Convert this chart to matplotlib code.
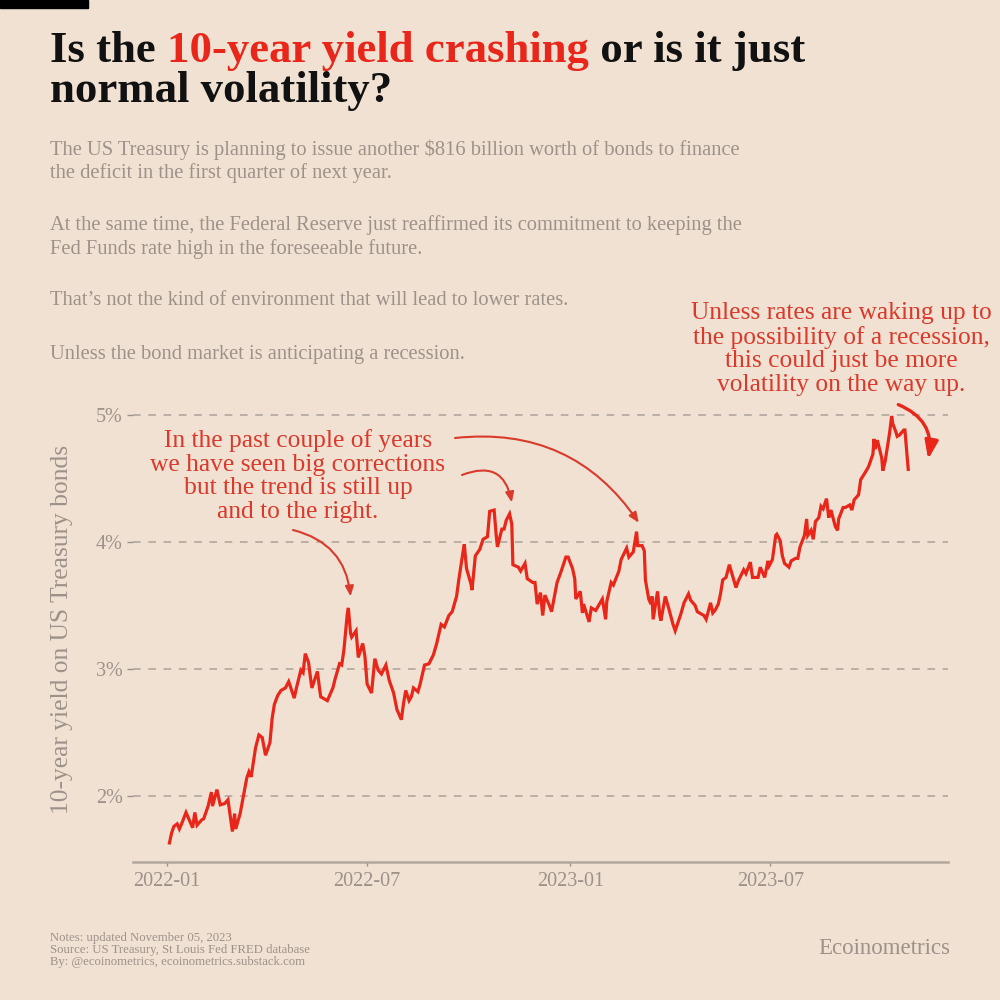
import matplotlib
matplotlib.use('Agg')
import matplotlib.pyplot as plt
import matplotlib.dates as mdates
import pandas as pd

# 10-year treasury yield (about two points a week)
dates = [
    '2022-01-03', '2022-01-05', '2022-01-07', '2022-01-10', '2022-01-12', '2022-01-14', '2022-01-18', '2022-01-20',
    '2022-01-24', '2022-01-26', '2022-01-28', '2022-02-01', '2022-02-03', '2022-02-07', '2022-02-10', '2022-02-11',
    '2022-02-15', '2022-02-18', '2022-02-22', '2022-02-25', '2022-03-01', '2022-03-03', '2022-03-04', '2022-03-08',
    '2022-03-11', '2022-03-14', '2022-03-16', '2022-03-18', '2022-03-22', '2022-03-25', '2022-03-28', '2022-03-31',
    '2022-04-04', '2022-04-06', '2022-04-08', '2022-04-11', '2022-04-14', '2022-04-18', '2022-04-21', '2022-04-26',
    '2022-04-28', '2022-05-02', '2022-05-04', '2022-05-06', '2022-05-09', '2022-05-11', '2022-05-12', '2022-05-17',
    '2022-05-19', '2022-05-20', '2022-05-24', '2022-05-26', '2022-05-31', '2022-06-02', '2022-06-06', '2022-06-08',
    '2022-06-10', '2022-06-13', '2022-06-14', '2022-06-16', '2022-06-17', '2022-06-21', '2022-06-23', '2022-06-27',
    '2022-06-29', '2022-07-01', '2022-07-05', '2022-07-08', '2022-07-11', '2022-07-14', '2022-07-18', '2022-07-21',
    '2022-07-25', '2022-07-28', '2022-08-01', '2022-08-03', '2022-08-05', '2022-08-08', '2022-08-10', '2022-08-12',
    '2022-08-16', '2022-08-18', '2022-08-22', '2022-08-26', '2022-08-30', '2022-09-02', '2022-09-06', '2022-09-09',
    '2022-09-13', '2022-09-16', '2022-09-20', '2022-09-22', '2022-09-26', '2022-09-27', '2022-09-29', '2022-10-03',
    '2022-10-04', '2022-10-07', '2022-10-11', '2022-10-14', '2022-10-18', '2022-10-20', '2022-10-24', '2022-10-26',
    '2022-10-27', '2022-10-31', '2022-11-02', '2022-11-04', '2022-11-07', '2022-11-09', '2022-11-10', '2022-11-15',
    '2022-11-17', '2022-11-21', '2022-11-23', '2022-11-28', '2022-11-30', '2022-12-02', '2022-12-05', '2022-12-07',
    '2022-12-09', '2022-12-13', '2022-12-15', '2022-12-20', '2022-12-23', '2022-12-28', '2022-12-30',
    '2023-01-03', '2023-01-05', '2023-01-06', '2023-01-10', '2023-01-12', '2023-01-13', '2023-01-18', '2023-01-20',
    '2023-01-24', '2023-01-26', '2023-01-30', '2023-02-02', '2023-02-03', '2023-02-07', '2023-02-09', '2023-02-14',
    '2023-02-16', '2023-02-21', '2023-02-23', '2023-02-27', '2023-03-02', '2023-03-03', '2023-03-07', '2023-03-09',
    '2023-03-10', '2023-03-13', '2023-03-15', '2023-03-16', '2023-03-17', '2023-03-21', '2023-03-23', '2023-03-24',
    '2023-03-28', '2023-03-31', '2023-04-04', '2023-04-06', '2023-04-11', '2023-04-14', '2023-04-18', '2023-04-20',
    '2023-04-24', '2023-04-26', '2023-04-28', '2023-05-02', '2023-05-04', '2023-05-08', '2023-05-10', '2023-05-12',
    '2023-05-15', '2023-05-17', '2023-05-19', '2023-05-22', '2023-05-25', '2023-05-31', '2023-06-02', '2023-06-07',
    '2023-06-09', '2023-06-13', '2023-06-15', '2023-06-20', '2023-06-22', '2023-06-26', '2023-06-29', '2023-06-30',
    '2023-07-03', '2023-07-06', '2023-07-07', '2023-07-10', '2023-07-12', '2023-07-14', '2023-07-18', '2023-07-20',
    '2023-07-24', '2023-07-26', '2023-07-28', '2023-08-01', '2023-08-03', '2023-08-04', '2023-08-07', '2023-08-09',
    '2023-08-11', '2023-08-14', '2023-08-16', '2023-08-18', '2023-08-21', '2023-08-23', '2023-08-25', '2023-08-29',
    '2023-08-31', '2023-09-01', '2023-09-05', '2023-09-07', '2023-09-11', '2023-09-13', '2023-09-15', '2023-09-19',
    '2023-09-21', '2023-09-26', '2023-09-28', '2023-10-02', '2023-10-03', '2023-10-04', '2023-10-06', '2023-10-10',
    '2023-10-11', '2023-10-13', '2023-10-17', '2023-10-19', '2023-10-20', '2023-10-23', '2023-10-24', '2023-10-26',
    '2023-10-30', '2023-10-31', '2023-11-01', '2023-11-02', '2023-11-03',
]
yields = [
    1.63, 1.71, 1.76, 1.78, 1.74, 1.78, 1.87, 1.83,
    1.75, 1.87, 1.77, 1.81, 1.82, 1.92, 2.03, 1.92,
    2.05, 1.93, 1.94, 1.97, 1.72, 1.86, 1.74, 1.86,
    2.00, 2.14, 2.19, 2.15, 2.38, 2.48, 2.46, 2.32,
    2.42, 2.61, 2.72, 2.79, 2.83, 2.85, 2.90, 2.77,
    2.85, 2.99, 2.97, 3.12, 3.05, 2.91, 2.85, 2.98,
    2.84, 2.78, 2.76, 2.75, 2.85, 2.92, 3.04, 3.03,
    3.15, 3.43, 3.48, 3.28, 3.25, 3.30, 3.09, 3.20,
    3.10, 2.88, 2.81, 3.08, 2.99, 2.96, 3.03, 2.91,
    2.81, 2.68, 2.60, 2.73, 2.83, 2.75, 2.78, 2.85,
    2.82, 2.88, 3.03, 3.04, 3.11, 3.20, 3.35, 3.33,
    3.42, 3.45, 3.57, 3.70, 3.93, 3.98, 3.79, 3.67,
    3.62, 3.89, 3.94, 4.02, 4.04, 4.24, 4.25, 4.04,
    3.96, 4.10, 4.10, 4.17, 4.22, 4.14, 3.82, 3.80,
    3.77, 3.83, 3.71, 3.68, 3.68, 3.51, 3.60, 3.42,
    3.58, 3.50, 3.45, 3.68, 3.75, 3.88, 3.88,
    3.79, 3.71, 3.55, 3.61, 3.44, 3.51, 3.37, 3.48,
    3.46, 3.49, 3.55, 3.39, 3.53, 3.68, 3.66, 3.77,
    3.86, 3.95, 3.88, 3.92, 4.08, 3.97, 3.97, 3.93,
    3.70, 3.55, 3.51, 3.57, 3.39, 3.61, 3.42, 3.38,
    3.57, 3.48, 3.35, 3.30, 3.43, 3.52, 3.59, 3.54,
    3.50, 3.45, 3.44, 3.42, 3.39, 3.52, 3.44, 3.46,
    3.51, 3.59, 3.70, 3.72, 3.82, 3.64, 3.69, 3.78,
    3.75, 3.84, 3.72, 3.72, 3.80, 3.72, 3.85, 3.81,
    3.86, 4.05, 4.06, 4.01, 3.89, 3.83, 3.80, 3.85,
    3.87, 3.87, 3.96, 4.05, 4.18, 4.05, 4.09, 4.02,
    4.16, 4.19, 4.28, 4.26, 4.34, 4.19, 4.25, 4.12,
    4.09, 4.18, 4.27, 4.27, 4.29, 4.25, 4.33, 4.37,
    4.49, 4.56, 4.59, 4.69, 4.81, 4.73, 4.80, 4.66,
    4.56, 4.63, 4.85, 4.99, 4.93, 4.86, 4.83, 4.84,
    4.88, 4.88, 4.77, 4.67, 4.57,
]

yticks = [2, 3, 4, 5]
ytick_labels = ['2%', '3%', '4%', '5%']
xticks = ['2022-01-01', '2022-07-01', '2023-01-01', '2023-07-01']

bg = '#f0e1d2'
gray = '#9d928a'
red = '#e8261a'
red_text = '#d93a2b'

plt.rcParams['font.family'] = ['Liberation Serif', 'DejaVu Serif']

fig = plt.figure(figsize=(10, 10), dpi=100, facecolor=bg)
ax = fig.add_axes([0.133, 0.138, 0.815, 0.479])
ax.set_facecolor(bg)

x = pd.to_datetime(dates)
ax.plot(x, yields, color=red, lw=2.3, solid_joinstyle='miter', zorder=3)

ax.set_ylim(1.48, 5.25)
ax.set_xlim(pd.Timestamp('2021-12-01'), pd.Timestamp('2023-12-09'))
ax.set_yticks(yticks)
ax.set_yticklabels(ytick_labels)
ax.set_xticks(pd.to_datetime(xticks))
ax.xaxis.set_major_formatter(mdates.DateFormatter('%Y-%m'))
ax.grid(axis='y', color='#aaa29a', ls=(0, (5, 5)), lw=1.1)
ax.tick_params(axis='both', colors=gray, labelcolor=gray, labelsize=14.5, length=4, width=1)
ax.tick_params(axis='x', length=3, pad=4)
for s in ['top', 'right', 'left']:
    ax.spines[s].set_visible(False)
ax.spines['bottom'].set_color('#b3a79c')
ax.spines['bottom'].set_linewidth(1.8)
ax.set_ylabel('10-year yield on US Treasury bonds', color=gray, fontsize=18.4)
ax.yaxis.set_label_coords(-0.074, 0.485)

# black tag in the corner
fig.patches.append(plt.Rectangle((0, 0.992), 0.088, 0.008, transform=fig.transFigure,
                                 color='black', zorder=5))

# title with the red part
fig.canvas.draw()
r = fig.canvas.get_renderer()
tx = 0.05
for part, col in [('Is the ', '#111111'), ('10-year yield crashing', red), (' or is it just', '#111111')]:
    t = fig.text(tx, 0.938, part, color=col, fontsize=32.2, fontweight='bold', va='baseline')
    bb = t.get_window_extent(renderer=r)
    tx += bb.width / fig.bbox.width
fig.text(0.05, 0.898, 'normal volatility?', color='#111111', fontsize=32.2, fontweight='bold', va='baseline')

sub = [
    (0.861, 'The US Treasury is planning to issue another $816 billion worth of bonds to finance\nthe deficit in the first quarter of next year.'),
    (0.785, 'At the same time, the Federal Reserve just reaffirmed its commitment to keeping the\nFed Funds rate high in the foreseeable future.'),
    (0.709, 'That\u2019s not the kind of environment that will lead to lower rates.'),
    (0.655, 'Unless the bond market is anticipating a recession.'),
]
for y, s in sub:
    fig.text(0.05, y, s, color=gray, fontsize=14.8, va='top', linespacing=1.25)

# annotations
fig.text(0.298, 0.524, 'In the past couple of years\nwe have seen big corrections\nbut the trend is still up\nand to the right.',
         color=red_text, fontsize=18.4, ha='center', va='center', linespacing=1.08)
fig.text(0.841, 0.651, 'Unless rates are waking up to\nthe possibility of a recession,\nthis could just be more\nvolatility on the way up.',
         color=red_text, fontsize=18.4, ha='center', va='center', linespacing=1.08)

arrow = dict(arrowstyle='-|>,head_length=0.6,head_width=0.25', color=red_text, lw=1.5, shrinkA=0, shrinkB=0)
ax.annotate('', xy=(pd.Timestamp('2022-06-16'), 3.57), xytext=(0.293, 0.470), textcoords='figure fraction',
            arrowprops=dict(arrow, connectionstyle='arc3,rad=-0.35'))
ax.annotate('', xy=(pd.Timestamp('2022-11-09'), 4.31), xytext=(0.462, 0.525), textcoords='figure fraction',
            arrowprops=dict(arrow, connectionstyle='arc3,rad=-0.6'))
ax.annotate('', xy=(pd.Timestamp('2023-03-04'), 4.15), xytext=(0.455, 0.562), textcoords='figure fraction',
            arrowprops=dict(arrow, connectionstyle='arc3,rad=-0.3'))
ax.annotate('', xy=(pd.Timestamp('2023-11-21'), 4.65), xytext=(pd.Timestamp('2023-10-25'), 5.08),
            arrowprops=dict(arrowstyle='-|>,head_length=1.1,head_width=0.4', color=red, lw=2.4,
                            shrinkA=0, shrinkB=0, connectionstyle='arc3,rad=-0.4'))

# footer
fig.text(0.05, 0.050, 'Notes: updated November 05, 2023\nSource: US Treasury, St Louis Fed FRED database\nBy: @ecoinometrics, ecoinometrics.substack.com',
         color=gray, fontsize=9.2, va='center', linespacing=1.0)
fig.text(0.95, 0.052, 'Ecoinometrics', color=gray, fontsize=16.5, ha='right', va='center')

fig.savefig('out.png', dpi=100, facecolor=bg)
